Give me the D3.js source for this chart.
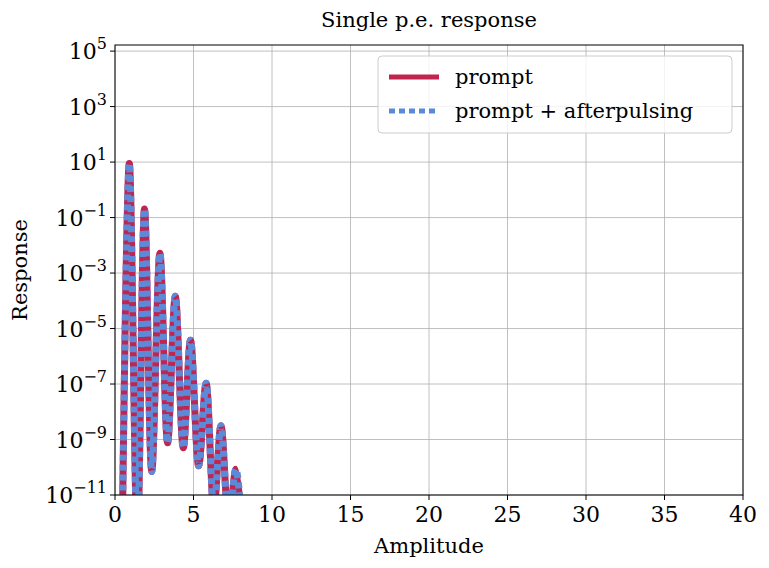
<!DOCTYPE html>
<html>
<head>
<meta charset="utf-8">
<script src="https://cdn.jsdelivr.net/npm/d3@7"></script>
<style>
  body { margin: 0; background: #fff; }
  text { font-family: "DejaVu Serif", serif; }
</style>
</head>
<body>
<svg id="chart" width="769" height="568"></svg>
<script>
// data: amplitude and log10(response)
const amplitude = [0.45, 0.91, 1.42, 1.88, 2.34, 2.86, 3.35, 3.84, 4.35, 4.81, 5.33, 5.8, 6.3, 6.75, 7.25, 7.7, 8.2];
const logResponse = [-13, 0.95, -12.5, -0.69, -10.15, -2.29, -9.12, -3.84, -9.3, -5.42, -9.95, -6.97, -11.5, -8.5, -12, -10.07, -13];
const xTicks = [0, 5, 10, 15, 20, 25, 30, 35, 40];
const yTickExp = [-11, -9, -7, -5, -3, -1, 1, 3, 5];

const margin = { left: 115, right: 26, top: 45, bottom: 73 };
const width = 769, height = 568;
const svg = d3.select("#chart");

const x = d3.scaleLinear().domain([0, 40]).range([margin.left, width - margin.right]);
const y = d3.scaleLog().domain([1e-11, Math.pow(10, 5.22)]).range([height - margin.bottom, margin.top]);

const pts = amplitude.map((a, i) => ({ x: a, y: Math.pow(10, logResponse[i]) }));

// grid
const g = svg.append("g");
g.selectAll(".gx").data(xTicks).enter().append("line")
  .attr("x1", d => x(d)).attr("x2", d => x(d))
  .attr("y1", margin.top).attr("y2", height - margin.bottom)
  .attr("stroke", "#b0b0b0").attr("stroke-width", 0.8);
g.selectAll(".gy").data(yTickExp).enter().append("line")
  .attr("x1", margin.left).attr("x2", width - margin.right)
  .attr("y1", d => y(Math.pow(10, d))).attr("y2", d => y(Math.pow(10, d)))
  .attr("stroke", "#b0b0b0").attr("stroke-width", 0.8);

svg.append("clipPath").attr("id", "clip").append("rect")
  .attr("x", margin.left).attr("y", margin.top)
  .attr("width", width - margin.left - margin.right)
  .attr("height", height - margin.top - margin.bottom);

// line in log space so the curve bends like the original
const line = d3.line()
  .x(d => x(d.x))
  .y(d => y(d.y))
  .curve(d3.curveCatmullRom.alpha(0.5));

const plot = svg.append("g").attr("clip-path", "url(#clip)");
plot.append("path").datum(pts).attr("d", line)
  .attr("fill", "none").attr("stroke", "#c0244f").attr("stroke-width", 7);
plot.append("path").datum(pts).attr("d", line)
  .attr("fill", "none").attr("stroke", "#5b8bd8").attr("stroke-width", 7)
  .attr("stroke-dasharray", "6,4");

// frame
svg.append("rect").attr("x", margin.left).attr("y", margin.top)
  .attr("width", width - margin.left - margin.right)
  .attr("height", height - margin.top - margin.bottom)
  .attr("fill", "none").attr("stroke", "#000").attr("stroke-width", 1);

// x axis
const xa = svg.append("g");
xa.selectAll("line").data(xTicks).enter().append("line")
  .attr("x1", d => x(d)).attr("x2", d => x(d))
  .attr("y1", height - margin.bottom).attr("y2", height - margin.bottom + 5)
  .attr("stroke", "#000");
xa.selectAll("text").data(xTicks).enter().append("text")
  .attr("x", d => x(d)).attr("y", height - margin.bottom + 27)
  .attr("text-anchor", "middle").attr("font-size", 22).text(d => d);

// y axis
const ya = svg.append("g");
ya.selectAll("line").data(yTickExp).enter().append("line")
  .attr("x1", margin.left - 5).attr("x2", margin.left)
  .attr("y1", d => y(Math.pow(10, d))).attr("y2", d => y(Math.pow(10, d)))
  .attr("stroke", "#000");
const yl = ya.selectAll("text").data(yTickExp).enter().append("text")
  .attr("x", margin.left - 8).attr("y", d => y(Math.pow(10, d)) + 8)
  .attr("text-anchor", "end").attr("font-size", 22);
yl.append("tspan").text("10");
yl.append("tspan").attr("dy", -10).attr("font-size", 16).text(d => d < 0 ? "\u2212" + (-d) : d);

// labels
svg.append("text").attr("x", (margin.left + width - margin.right) / 2).attr("y", 27)
  .attr("text-anchor", "middle").attr("font-size", 21).text("Single p.e. response");
svg.append("text").attr("x", (margin.left + width - margin.right) / 2).attr("y", 553)
  .attr("text-anchor", "middle").attr("font-size", 21).text("Amplitude");
svg.append("text").attr("transform", `translate(27,${(margin.top + height - margin.bottom) / 2}) rotate(-90)`)
  .attr("text-anchor", "middle").attr("font-size", 21).text("Response");

// legend
const lg = svg.append("g");
lg.append("rect").attr("x", 378).attr("y", 56).attr("width", 354).attr("height", 77)
  .attr("rx", 4).attr("fill", "#fff").attr("fill-opacity", 0.8).attr("stroke", "#ccc");
lg.append("line").attr("x1", 389).attr("x2", 439).attr("y1", 77).attr("y2", 77)
  .attr("stroke", "#c0244f").attr("stroke-width", 5);
lg.append("line").attr("x1", 389).attr("x2", 439).attr("y1", 111).attr("y2", 111)
  .attr("stroke", "#5b8bd8").attr("stroke-width", 5).attr("stroke-dasharray", "6,4");
lg.append("text").attr("x", 455).attr("y", 84).attr("font-size", 21).text("prompt");
lg.append("text").attr("x", 455).attr("y", 118).attr("font-size", 21).text("prompt + afterpulsing");
</script>
</body>
</html>
